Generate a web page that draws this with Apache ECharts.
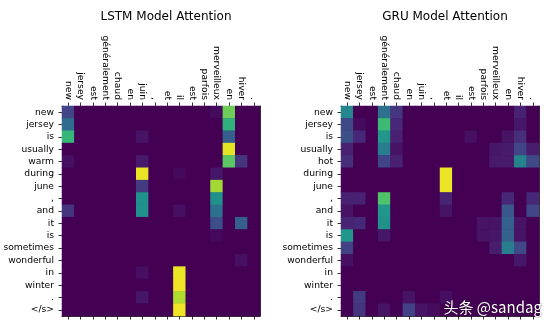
<!DOCTYPE html>
<html>
<head>
<meta charset="utf-8">
<script src="https://cdn.jsdelivr.net/npm/echarts@6/dist/echarts.min.js"></script>
<style>
html,body{margin:0;padding:0;background:#fff;}
#c{width:550px;height:326px;}
</style>
</head>
<body>
<div id="c"></div>
<script>
const xLabels = ['new','jersey','est','généralement','chaud','en','juin',',','et','il','est','parfois','merveilleux','en','hiver','.'];
const yLabelsLSTM = ['new','jersey','is','usually','warm','during','june',',','and','it','is','sometimes','wonderful','in','winter','.','</s>'];
const yLabelsGRU = ['new','jersey','is','usually','hot','during','june',',','and','it','is','sometimes','wonderful','in','winter','.','</s>'];

// rows = target words, columns = source words
const lstmAttention = [
  [0.20,0,0,0,0,0,0,0,0,0,0,0,0.03,0.78,0,0],
  [0.35,0,0,0,0,0,0,0,0,0,0,0,0,0.64,0,0],
  [0.66,0,0,0,0,0,0.05,0,0,0,0,0,0,0.30,0,0],
  [0,0,0,0,0,0,0,0,0,0,0,0,0,0.96,0,0],
  [0.04,0,0,0,0,0,0.07,0,0,0,0,0,0,0.74,0.15,0],
  [0,0,0,0,0,0,0.97,0,0,0.02,0,0,0.06,0,0,0],
  [0,0,0,0,0,0,0.17,0,0,0,0,0,0.86,0,0,0],
  [0,0,0,0,0,0,0.50,0,0,0,0,0,0.50,0,0,0],
  [0.15,0,0,0,0,0,0.50,0,0,0.04,0,0,0.37,0,0,0],
  [0,0,0,0,0,0,0,0,0,0,0,0,0.24,0,0.30,0],
  [0,0,0,0,0,0,0,0,0,0,0,0,0.02,0,0,0],
  [0,0,0,0,0,0,0,0,0,0,0,0,0,0,0,0],
  [0,0,0,0,0,0,0,0,0,0,0,0,0,0,0.04,0],
  [0,0,0,0,0,0,0.04,0,0,0.97,0,0,0,0,0,0],
  [0,0,0,0,0,0,0,0,0,0.98,0,0,0,0,0,0],
  [0,0,0,0,0,0,0.06,0,0,0.88,0,0,0,0,0,0],
  [0,0,0,0,0,0,0,0,0,0.98,0,0,0,0,0,0]
];

const gruAttention = [
  [0.46,0,0,0.37,0.16,0,0,0,0,0,0,0,0,0,0.09,0],
  [0.22,0.03,0,0.68,0.11,0,0,0,0,0,0,0,0,0,0.06,0],
  [0.24,0.11,0,0.52,0.09,0,0,0,0,0,0.04,0,0,0.05,0.13,0],
  [0.09,0,0,0.42,0.05,0,0,0,0,0,0,0,0.06,0.07,0.20,0.08],
  [0.13,0,0,0.20,0.09,0,0,0,0,0,0,0,0.07,0.07,0.44,0.22],
  [0,0,0,0,0,0,0,0,0.97,0,0,0,0,0,0,0],
  [0,0,0,0,0,0,0,0,0.97,0,0,0,0,0,0,0],
  [0.09,0.09,0,0.72,0,0,0,0,0.10,0,0,0,0,0.11,0,0.11],
  [0.05,0,0,0.52,0,0,0,0,0.05,0,0,0,0,0.27,0,0.20],
  [0.10,0.11,0,0.50,0,0,0,0,0,0,0,0.05,0.05,0.30,0.05,0],
  [0.52,0,0,0.06,0,0,0,0,0,0,0,0.05,0.06,0.31,0.05,0],
  [0.19,0,0,0,0,0,0,0,0,0,0,0,0.08,0.42,0.22,0],
  [0.04,0,0,0,0,0,0,0,0,0,0,0,0,0,0.06,0],
  [0,0,0,0,0,0,0,0,0,0,0,0,0,0,0,0],
  [0,0,0,0,0,0,0,0,0,0,0,0,0,0,0,0],
  [0,0.17,0,0,0,0.05,0,0,0.04,0,0,0,0,0,0,0],
  [0,0.15,0,0.05,0,0.19,0.05,0.03,0,0,0,0,0,0,0,0]
];

const viridis = ['#440154','#482475','#414487','#355f8d','#2a788e','#21918c','#22a884','#44bf70','#7ad151','#bddf26','#fde725'];

function toCells(m){
  const out = [];
  m.forEach((row, r) => row.forEach((v, c) => out.push([c, r, v])));
  return out;
}

const FONT = 'DejaVu Sans';
const lbl = {fontFamily: FONT, fontSize: 9.2, color: '#000'};
const axLine = {show:true, lineStyle:{color:'#000', width:0.8}};
const tick = {show:true, interval:0, alignWithLabel:true, length:3.5, lineStyle:{color:'#000', width:0.8}};
const grids = [
  {left: 62, top: 106, width: 198, height: 210, show:true, backgroundColor:'#440154', borderWidth:0},
  {left: 341, top: 106, width: 198, height: 210, show:true, backgroundColor:'#440154', borderWidth:0}
];
const xAxes = [], yAxes = [];
[0,1].forEach(i => {
  xAxes.push({type:'category', gridIndex:i, position:'top', data:xLabels,
    axisLine:axLine, axisTick:tick,
    axisLabel:Object.assign({interval:0, rotate:90, margin:6}, lbl),
    splitLine:{show:false}});
  xAxes.push({type:'category', gridIndex:i, position:'bottom', data:xLabels,
    axisLine:axLine, axisTick:tick,
    axisLabel:{show:false}, splitLine:{show:false}});
  const yl = i === 0 ? yLabelsLSTM : yLabelsGRU;
  yAxes.push({type:'category', gridIndex:i, position:'left', inverse:true, data:yl,
    axisLine:axLine, axisTick:tick,
    axisLabel:Object.assign({interval:0, margin:8}, lbl),
    splitLine:{show:false}});
  yAxes.push({type:'category', gridIndex:i, position:'right', inverse:true, data:yl,
    axisLine:axLine, axisTick:{show:false}, axisLabel:{show:false}, splitLine:{show:false}});
});

const chart = echarts.init(document.getElementById('c'), null, {renderer:'canvas'});
chart.setOption({
  backgroundColor:'#fff',
  animation:false,
  title:[
    {text:'LSTM Model Attention', left:161, top:6, textAlign:'center',
     textStyle:{fontFamily:FONT, fontSize:12, fontWeight:'normal', color:'#000'}},
    {text:'GRU Model Attention', left:440, top:6, textAlign:'center',
     textStyle:{fontFamily:FONT, fontSize:12, fontWeight:'normal', color:'#000'}}
  ],
  grid:grids,
  xAxis:xAxes,
  yAxis:yAxes,
  visualMap:{show:false, min:0, max:1, dimension:2, seriesIndex:[0,1], inRange:{color:viridis}},
  series:[
    {type:'heatmap', xAxisIndex:0, yAxisIndex:0, data:toCells(lstmAttention), itemStyle:{borderWidth:0}},
    {type:'heatmap', xAxisIndex:2, yAxisIndex:2, data:toCells(gruAttention), itemStyle:{borderWidth:0}}
  ],
  graphic:[{type:'text', left:443, top:299, z:100,
    style:{text:'头条 @sandag', fontFamily:'Noto Sans CJK SC', fontSize:15, fill:'#fff',
      stroke:'rgba(0,0,0,0.35)', lineWidth:1}}]
});
</script>
</body>
</html>
